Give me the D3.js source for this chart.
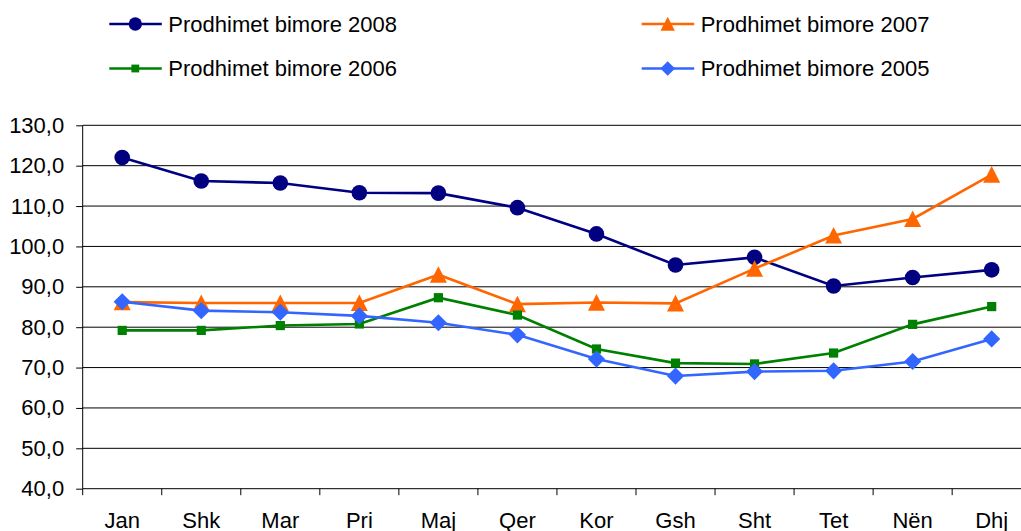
<!DOCTYPE html>
<html>
<head>
<meta charset="utf-8">
<script src="https://cdn.jsdelivr.net/npm/d3@7"></script>
<style>
  body { margin: 0; background: #fff; }
  svg { display: block; font-family: "Liberation Sans", Arial, sans-serif; }
</style>
</head>
<body>
<script>
// months (Albanian)
var months = ["Jan", "Shk", "Mar", "Pri", "Maj", "Qer", "Kor", "Gsh", "Sht", "Tet", "Nën", "Dhj"];
var yTicks = [40, 50, 60, 70, 80, 90, 100, 110, 120, 130];

// values
var v2008 = [122.0, 116.2, 115.7, 113.3, 113.2, 109.6, 103.1, 95.4, 97.3, 90.2, 92.3, 94.2];
var v2007 = [86.2, 86.0, 86.0, 86.0, 93.0, 85.7, 86.1, 85.9, 94.5, 102.7, 106.8, 117.8];
var v2006 = [79.2, 79.2, 80.4, 80.8, 87.3, 83.0, 74.6, 71.1, 70.9, 73.6, 80.7, 85.1];
var v2005 = [86.3, 84.1, 83.7, 82.8, 81.1, 78.1, 72.1, 67.9, 69.0, 69.2, 71.5, 77.1];

var series = [
  { name: "Prodhimet bimore 2008", values: v2008, color: "#000080", marker: "circle" },
  { name: "Prodhimet bimore 2007", values: v2007, color: "#FF6600", marker: "triangle" },
  { name: "Prodhimet bimore 2006", values: v2006, color: "#008000", marker: "square" },
  { name: "Prodhimet bimore 2005", values: v2005, color: "#3366FF", marker: "diamond" }
];

var w = 1021, h = 531;
var svg = d3.select("body").append("svg")
  .attr("width", w)
  .attr("height", h);

// plot runs off the right edge like in the original
var x = d3.scaleBand().domain(months).range([82.7, 1031.2]);
var y = d3.scaleLinear().domain([40, 130]).range([488.7, 125.3]);
var fmt = function(d) { return d3.format(".1f")(d).replace(".", ","); };

// gridlines
svg.append("g").selectAll("line")
  .data(yTicks.slice(1))
  .enter().append("line")
  .attr("x1", 82.7).attr("x2", w)
  .attr("y1", function(d) { return y(d); })
  .attr("y2", function(d) { return y(d); })
  .attr("stroke", "#000")
  .attr("stroke-width", 1);

// y axis
var yAxis = svg.append("g")
  .attr("transform", "translate(82.7,0)")
  .call(d3.axisLeft(y).tickValues(yTicks).tickFormat(fmt).tickSize(6.5).tickPadding(12));
yAxis.select(".domain").attr("stroke", "#000").attr("d", "M0," + y(40) + "V" + y(130));
yAxis.selectAll("text").attr("font-size", 22).attr("fill", "#000")
  .attr("font-family", "Liberation Sans, Arial, sans-serif");

// x axis line + ticks at category boundaries
svg.append("line")
  .attr("x1", 82.7).attr("x2", w)
  .attr("y1", y(40)).attr("y2", y(40))
  .attr("stroke", "#000");
svg.append("g").selectAll("line")
  .data(months)
  .enter().append("line")
  .attr("x1", function(d) { return x(d); })
  .attr("x2", function(d) { return x(d); })
  .attr("y1", y(40)).attr("y2", y(40) + 6.5)
  .attr("stroke", "#000");
svg.append("g").selectAll("text")
  .data(months)
  .enter().append("text")
  .attr("x", function(d) { return x(d) + x.bandwidth() / 2; })
  .attr("y", 528)
  .attr("text-anchor", "middle")
  .attr("font-size", 22)
  .text(function(d) { return d; });

function drawMarker(g, type, color, cx, cy, s) {
  if (type === "circle") {
    g.append("circle").attr("cx", cx).attr("cy", cy).attr("r", 7.8 * s).attr("fill", color);
  } else if (type === "triangle") {
    var a = 8.5 * s;
    g.append("path")
      .attr("d", "M" + cx + "," + (cy - a) + "L" + (cx + a) + "," + (cy + a * 0.95) + "L" + (cx - a) + "," + (cy + a * 0.95) + "Z")
      .attr("fill", color);
  } else if (type === "square") {
    var b = 4.6 * s;
    g.append("rect").attr("x", cx - b).attr("y", cy - b).attr("width", 2 * b).attr("height", 2 * b).attr("fill", color);
  } else {
    var c = 8.6 * s;
    g.append("path")
      .attr("d", "M" + cx + "," + (cy - c) + "L" + (cx + c) + "," + cy + "L" + cx + "," + (cy + c) + "L" + (cx - c) + "," + cy + "Z")
      .attr("fill", color);
  }
}

var line = d3.line()
  .x(function(d, i) { return x(months[i]) + x.bandwidth() / 2; })
  .y(function(d) { return y(d); });

series.forEach(function(s) {
  var g = svg.append("g");
  g.append("path")
    .attr("d", line(s.values))
    .attr("fill", "none")
    .attr("stroke", s.color)
    .attr("stroke-width", 2.6);
  s.values.forEach(function(v, i) {
    drawMarker(g, s.marker, s.color, x(months[i]) + x.bandwidth() / 2, y(v), 1);
  });
});

// legend
var legendPos = [[109.3, 24], [641.7, 24], [109.3, 68.5], [641.7, 68.5]];
series.forEach(function(s, i) {
  var p = legendPos[i];
  var g = svg.append("g");
  g.append("line")
    .attr("x1", p[0]).attr("x2", p[0] + 52.5)
    .attr("y1", p[1]).attr("y2", p[1])
    .attr("stroke", s.color).attr("stroke-width", 2.6);
  drawMarker(g, s.marker, s.color, p[0] + 26, p[1], 0.85);
  g.append("text")
    .attr("x", p[0] + 59)
    .attr("y", p[1] + 7.7)
    .attr("font-size", 22)
    .text(s.name);
});
</script>
</body>
</html>
